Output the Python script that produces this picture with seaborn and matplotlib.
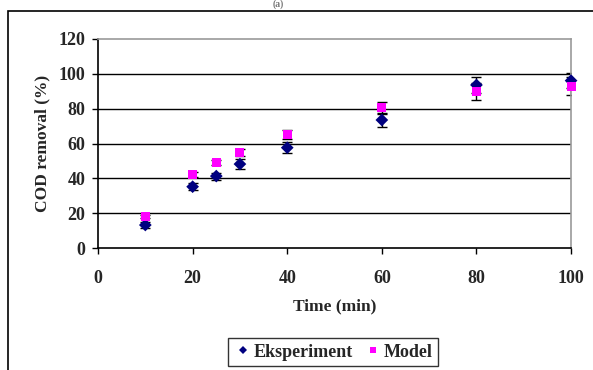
import matplotlib
matplotlib.use("Agg")
import matplotlib.pyplot as plt
from matplotlib.patches import Rectangle
import seaborn as sns
import pandas as pd
import numpy as np

# data
time_min = [10, 20, 25, 30, 40, 60, 80, 100]
exp_removal = [13.2, 35.2, 41.3, 48.2, 57.6, 73.5, 93.6, 96.1]
exp_err = [1.5, 2.0, 2.0, 3.0, 3.0, 3.9, 4.5, 4.2]
model_removal = [18.0, 42.3, 49.0, 54.7, 64.9, 80.5, 89.7, 93.0]
model_err = [1.0, 1.5, 1.5, 2.0, 2.6, 3.5, 4.8, 5.0]

sns.set_style("white")
plt.rcParams["font.family"] = ["Liberation Serif", "DejaVu Serif"]
plt.rcParams["font.weight"] = "bold"

df = pd.DataFrame({
    "time": time_min * 2,
    "removal": exp_removal + model_removal,
    "series": ["Eksperiment"] * len(time_min) + ["Model"] * len(time_min),
})

fig = plt.figure(figsize=(5.93, 3.70), dpi=100)
ax = fig.add_axes([0.1653, 0.3297, 0.963 - 0.1653, 0.8946 - 0.3297])

# outer chart frame
fig.patches.append(Rectangle((0.0135, -0.1), 1.2, 0.1 + 0.970, transform=fig.transFigure,
                             fill=False, edgecolor="black", linewidth=1.2))
fig.text(0.47, 0.988, "(a)", ha="center", va="center", fontsize=7, color="#777777")

for y in range(20, 101, 20):
    ax.axhline(y, color="black", linewidth=1.0, zorder=0)

ax.errorbar(time_min, exp_removal, yerr=exp_err, fmt="none", ecolor="black",
            elinewidth=1.0, capsize=3.5, capthick=1.0, zorder=2)
ax.errorbar(time_min, model_removal, yerr=model_err, fmt="none", ecolor="black",
            elinewidth=1.0, capsize=3.5, capthick=1.0, zorder=2)

sns.scatterplot(data=df, x="time", y="removal", hue="series", style="series",
                palette={"Eksperiment": "#000080", "Model": "#FF00FF"},
                markers={"Eksperiment": "D", "Model": "s"},
                s=42, linewidth=0, ax=ax, zorder=3, clip_on=False)

ax.set_xlim(0, 100)
ax.set_ylim(0, 120)
ax.set_xticks(range(0, 101, 20))
ax.set_yticks(range(0, 121, 20))
ax.tick_params(axis="both", labelsize=13, direction="out", length=4, width=1,
               left=True, bottom=True, color="black")
ax.tick_params(axis="x", pad=12)
ax.tick_params(axis="y", pad=5)
for lab in ax.get_xticklabels() + ax.get_yticklabels():
    lab.set_fontweight("bold")

ax.set_xlabel("Time (min)", fontsize=12.5, fontweight="bold", labelpad=8)
ax.set_ylabel("COD removal (%)", fontsize=12.5, fontweight="bold", labelpad=6)

for side in ["left", "bottom"]:
    ax.spines[side].set_color("black")
    ax.spines[side].set_linewidth(1.2)
for side in ["top", "right"]:
    ax.spines[side].set_color("#999999")
    ax.spines[side].set_linewidth(1.2)

leg = ax.legend(loc="center", bbox_to_anchor=(0.5616, 0.0486), bbox_transform=fig.transFigure,
                ncol=2, frameon=True, fancybox=False, edgecolor="black",
                handletextpad=0.1, columnspacing=0.6, borderpad=0.3, markerscale=0.6,
                handlelength=1.0, prop={"weight": "bold", "size": 13})
leg.get_frame().set_linewidth(1.0)

fig.savefig("out.png", dpi=100)
